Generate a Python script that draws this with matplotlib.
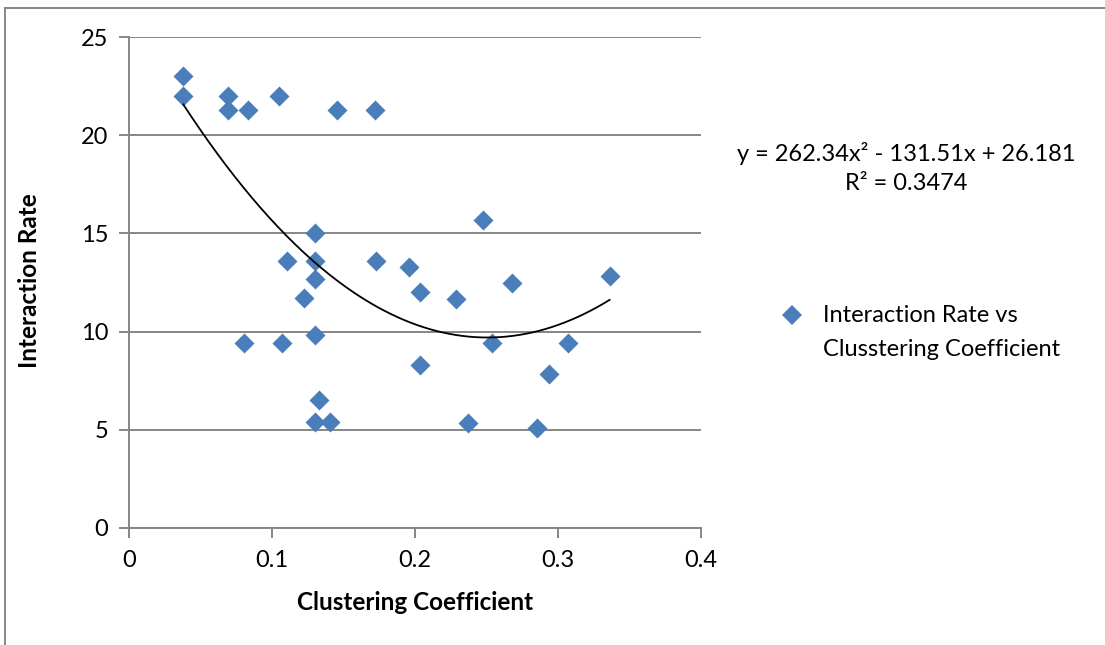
import matplotlib
matplotlib.use("Agg")
import matplotlib.pyplot as plt
import numpy as np
from matplotlib.lines import Line2D

plt.rcParams['font.family'] = ['Lato', 'DejaVu Sans']

# Data
clustering = [0.038, 0.038, 0.069, 0.069, 0.0835, 0.105, 0.1455, 0.172,
              0.1303, 0.1104, 0.1303, 0.1303, 0.1226, 0.173, 0.1955,
              0.0805, 0.107, 0.1303, 0.1326, 0.1303, 0.1404,
              0.2477, 0.2037, 0.2288, 0.2676, 0.3361, 0.254, 0.3067,
              0.2037, 0.294, 0.237, 0.2854]
interaction = [23.0, 22.0, 22.0, 21.26, 21.26, 22.0, 21.26, 21.26,
               15.0, 13.6, 13.6, 12.7, 11.71, 13.6, 13.27,
               9.44, 9.44, 9.81, 6.5, 5.39, 5.39,
               15.68, 12.0, 11.68, 12.5, 12.84, 9.44, 9.44,
               8.28, 7.86, 5.37, 5.10]
trend_coef = [262.34, -131.51, 26.181]
r_squared = 0.3474
x_ticks = [0, 0.1, 0.2, 0.3, 0.4]
y_ticks = [0, 5, 10, 15, 20, 25]

W, H = 1105, 645
fig = plt.figure(figsize=(W / 100, H / 100), dpi=100)
ax = fig.add_axes([129 / W, 1 - 528 / H, (701 - 129) / W, (528 - 37) / H])

grey = '#868686'
blue = '#4A7EBB'
fs = 17

ax.scatter(clustering, interaction, marker='D', s=10.2 ** 2, color=blue,
           linewidths=0, zorder=3)

xs = np.linspace(min(clustering), max(clustering), 200)
ax.plot(xs, np.polyval(trend_coef, xs), color='black', lw=1.3, zorder=4)

ax.set_xlim(0, 0.4)
ax.set_ylim(0, 25)
ax.set_xticks(x_ticks)
ax.set_xticklabels(['0', '0.1', '0.2', '0.3', '0.4'])
ax.set_yticks(y_ticks)
ax.set_yticklabels([str(v) for v in y_ticks])
ax.grid(axis='y', color=grey, lw=1.4)
ax.set_axisbelow(True)
for s in ['top', 'right']:
    ax.spines[s].set_visible(False)
for s in ['left', 'bottom']:
    ax.spines[s].set_color(grey)
    ax.spines[s].set_linewidth(1.4)
ax.tick_params(axis='both', colors=grey, length=7, width=1.4, labelsize=fs,
               labelcolor='black')
ax.tick_params(axis='x', pad=9)
ax.tick_params(axis='y', pad=8)

ax.set_xlabel('Clustering Coefficient', fontsize=fs + 0.5, fontweight='bold')
ax.set_ylabel('Interaction Rate', fontsize=fs + 0.5, fontweight='bold')
ax.xaxis.set_label_coords((415 - 129) / 572, (528 - 603) / 491)
ax.yaxis.set_label_coords((30 - 129) / 572, (528 - 281) / 491)
ax.xaxis.label.set_va('center')
ax.yaxis.label.set_va('center')

eq = f"y = {trend_coef[0]}x² - {abs(trend_coef[1])}x + {trend_coef[2]}"
fig.text(906 / W, 1 - 153 / H, eq, ha='center', va='center', fontsize=fs)
fig.text(906 / W, 1 - 184 / H, f"R² = {r_squared}", ha='center', va='center', fontsize=fs)

# Legend
fig.lines.append(Line2D([792 / W], [1 - 315 / H], marker='D', markersize=10.2,
                        color=blue, linestyle='none', markeredgewidth=0,
                        transform=fig.transFigure))
fig.text(823 / W, 1 - 316 / H, 'Interaction Rate vs', ha='left', va='center', fontsize=fs)
fig.text(823 / W, 1 - 349 / H, 'Clusstering Coefficient', ha='left', va='center', fontsize=fs)

# Chart frame (top and left visible)
fig.lines.append(Line2D([5 / W, 1], [1 - 8 / H, 1 - 8 / H], color=grey, lw=1.4,
                        transform=fig.transFigure))
fig.lines.append(Line2D([5 / W, 5 / W], [0, 1 - 8 / H], color=grey, lw=1.4,
                        transform=fig.transFigure))

fig.savefig('out.png', dpi=100)
